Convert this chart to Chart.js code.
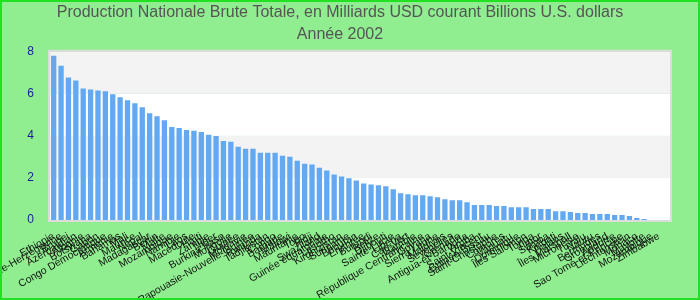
<!DOCTYPE html>
<html>
<head>
<meta charset="utf-8">
<script src="https://cdn.jsdelivr.net/npm/chart.js@4.4.0/dist/chart.umd.min.js"></script>
<style>
  body { margin: 0; background: #90ee90; }
  #wrap { width: 700px; height: 300px; }
</style>
</head>
<body>
<div id="wrap"><canvas id="myChart" width="700" height="300"></canvas></div>
<script>
// country names (French) sorted by GNP, 2002
const countries = [
  'Ethiopie', 'Bosnie-Herzégovine', 'Brunei', 'Azerbaïdjan', 'Albanie', 'Botswana',
  'Gabon', 'Congo Démocratique', 'Arménie', 'Bahamas', 'Mali', 'Maurice',
  'Népal', 'Madagascar', 'Bénin', 'Malte', 'Mozambique', 'Namibie',
  'Laos', 'Macédoine', 'Haïti', 'Zambie', 'Niger', 'Burkina Faso',
  'Mongolie', 'Guinée', 'Moldavie', 'Papouasie-Nouvelle-Guinée', 'Rwanda', 'Tadjikistan',
  'Congo', 'Barbade', 'Malawi', 'Mauritanie', 'Togo', 'Fidji',
  'Swaziland', 'Guinée équatoriale', 'Lesotho', 'Kirghizistan', 'Suriname', 'Bhoutan',
  'Érythrée', 'Burundi', 'Belize', 'Djibouti', 'Sainte-Lucie', 'Libéria',
  'Cap-Vert', 'Gambie', 'République Centrafricaine', 'Guyana', 'Sierra Leone', 'Maldives',
  'Seychelles', 'Grenade', 'Antigua-et-Barbuda', 'Aruba', 'Saint-Vincent', 'Guinée-Bissau',
  'Saint-Christophe', 'Comores', 'Vanuatu', 'Dominique', 'Îles Salomon', 'Tonga',
  'Timor', 'Samoa', 'Kiribati', 'Palaos', 'Îles Marshall', 'Micronésie',
  'Tuvalu', 'Nauru', 'Bermudes', 'Groenland', 'Andorre', 'Sao Tomé-et-Principe',
  'Liechtenstein', 'Monaco', 'Mayotte', 'Mozambique', 'Zimbabwe', ''
];

// Production Nationale Brute, milliards USD
const gnpValues = [
  7.81, 7.34, 6.78, 6.64, 6.26, 6.21, 6.16, 6.12, 5.98, 5.84, 5.69, 5.55,
  5.36, 5.08, 4.94, 4.75, 4.42, 4.38, 4.28, 4.24, 4.19, 4.05, 4.00, 3.76,
  3.72, 3.48, 3.39, 3.39, 3.20, 3.20, 3.20, 3.06, 3.01, 2.82, 2.68, 2.64,
  2.49, 2.35, 2.16, 2.07, 1.98, 1.88, 1.74, 1.69, 1.65, 1.60, 1.46, 1.27,
  1.22, 1.18, 1.18, 1.13, 1.08, 0.99, 0.94, 0.94, 0.85, 0.71, 0.71, 0.71,
  0.66, 0.66, 0.61, 0.61, 0.61, 0.52, 0.52, 0.52, 0.42, 0.42, 0.38, 0.33,
  0.33, 0.28, 0.28, 0.28, 0.24, 0.24, 0.19, 0.09, 0.05, null, null, null
];

const yTicks = [0, 2, 4, 6, 8];

// canvas background, alternating bands, frame
const backdrop = {
  id: 'backdrop',
  beforeDraw(chart) {
    const ctx = chart.ctx;
    ctx.save();
    ctx.fillStyle = '#90ee90';
    ctx.fillRect(0, 0, chart.width, chart.height);
    const area = chart.chartArea;
    const y = chart.scales.y;
    for (let i = 0; i < yTicks.length - 1; i++) {
      const top = y.getPixelForValue(yTicks[i + 1]);
      const bottom = y.getPixelForValue(yTicks[i]);
      ctx.fillStyle = i % 2 === 0 ? '#ffffff' : '#f3f3f3';
      ctx.fillRect(area.left, top, area.right - area.left, bottom - top);
    }
    ctx.restore();
  },
  afterDraw(chart) {
    const ctx = chart.ctx;
    const area = chart.chartArea;
    ctx.save();
    ctx.strokeStyle = '#dcdcdc';
    ctx.lineWidth = 2;
    ctx.strokeRect(area.left - 1, area.top - 1, area.right - area.left + 2, area.bottom - area.top + 2);
    ctx.strokeStyle = '#22e022';
    ctx.lineWidth = 2;
    ctx.strokeRect(1, 1, chart.width - 2, chart.height - 2);
    ctx.restore();
  }
};

new Chart(document.getElementById('myChart'), {
  type: 'bar',
  data: {
    labels: countries,
    datasets: [{
      label: 'PNB',
      data: gnpValues,
      backgroundColor: '#62a9f2',
      borderWidth: 0
    }]
  },
  options: {
    responsive: false,
    animation: false,
    layout: { padding: { left: 10, right: 30, top: 0, bottom: 0 } },
    plugins: {
      legend: { display: false },
      tooltip: { enabled: false },
      title: {
        display: true,
        text: ['Production Nationale Brute Totale, en Milliards USD courant Billions U.S. dollars', 'Année 2002'],
        color: '#555555',
        font: { family: 'Liberation Sans, Arial', size: 16, weight: 'normal', lineHeight: 1.4 },
        padding: { top: 1, bottom: 6 }
      }
    },
    scales: {
      x: {
        grid: { display: false },
        border: { display: false },
        afterFit(scale) { scale.height = 80; },
        ticks: {
          autoSkip: false,
          color: '#111111',
          minRotation: 30,
          maxRotation: 30,
          padding: 2,
          font: { family: 'Liberation Sans, Arial', size: 10.5 }
        }
      },
      y: {
        min: 0,
        max: 8,
        grid: { display: false },
        border: { display: false },
        afterFit(scale) { scale.width = 40; },
        ticks: {
          stepSize: 2,
          color: '#1a1a9a',
          padding: 8,
          font: { family: 'Liberation Sans, Arial', size: 12 }
        }
      }
    }
  },
  plugins: [backdrop]
});
</script>
</body>
</html>
